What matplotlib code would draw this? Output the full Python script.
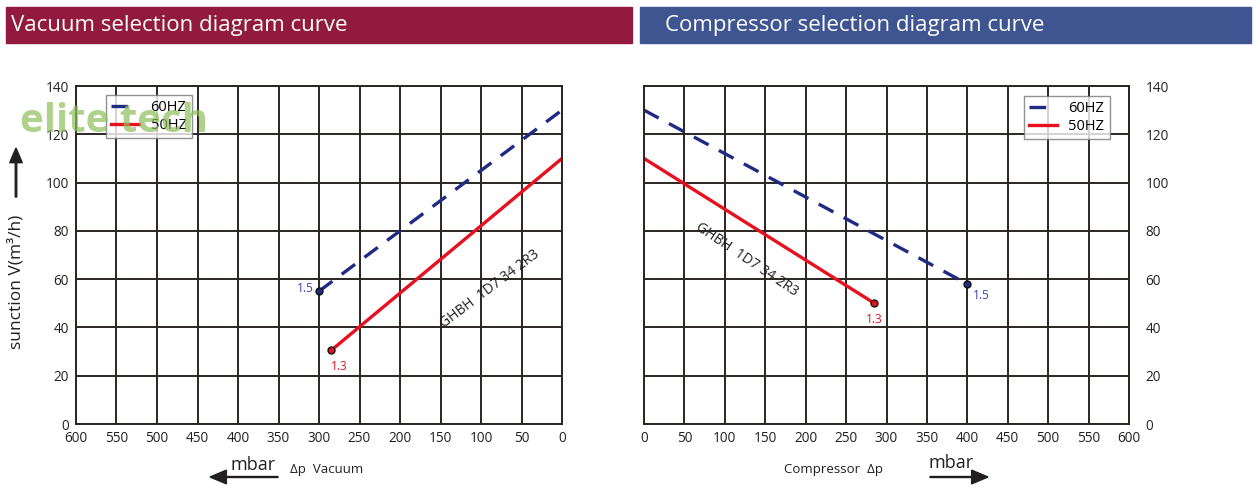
import matplotlib.pyplot as plt
from matplotlib.patches import Rectangle, FancyArrow

plt.rcParams['font.family'] = ['Open Sans', 'DejaVu Sans']

# data
x_ticks = [0, 50, 100, 150, 200, 250, 300, 350, 400, 450, 500, 550, 600]
y_ticks = [0, 20, 40, 60, 80, 100, 120, 140]

vac_60_x = [300, 0]
vac_60_y = [55, 130]
vac_50_x = [285, 0]
vac_50_y = [30.5, 110]

comp_60_x = [0, 400]
comp_60_y = [130, 58]
comp_50_x = [0, 285]
comp_50_y = [110, 50]

model = 'GHBH  1D7 34 2R3'
blue = '#1f2a85'
red = '#e8101e'
grid_c = '#2b2522'

fig = plt.figure(figsize=(12.6, 4.9), dpi=100)
W, H = 1260, 490


def px(x, y):
    return x / W, 1 - y / H


def setup(ax, reverse):
    ax.set_xlim(600, 0) if reverse else ax.set_xlim(0, 600)
    ax.set_ylim(0, 140)
    ax.set_xticks(x_ticks)
    ax.set_yticks(y_ticks)
    ax.grid(True, color=grid_c, lw=1.4)
    ax.set_axisbelow(True)
    for s in ax.spines.values():
        s.set_color(grid_c)
        s.set_linewidth(1.4)
    ax.tick_params(length=0, labelsize=9.8, pad=5, colors='#231f20')


def legend(ax, **kw):
    leg = ax.legend(fontsize=10.5, handlelength=1.9, frameon=True, fancybox=False,
                    edgecolor='#777', borderpad=0.35, labelspacing=0.2,
                    handletextpad=0.8, borderaxespad=0, **kw)
    leg.get_frame().set_linewidth(1.0)


# title bars
fig.patches.append(Rectangle(px(6, 43), 626 / W, 36 / H, transform=fig.transFigure,
                             color='#921a3e', zorder=0))
fig.patches.append(Rectangle(px(640, 43), 611 / W, 36 / H, transform=fig.transFigure,
                             color='#3f5591', zorder=0))
fig.text(*px(11, 25), 'Vacuum selection diagram curve', color='white', fontsize=16,
         va='center', ha='left')
fig.text(*px(665, 25), 'Compressor selection diagram curve', color='white', fontsize=16,
         va='center', ha='left')

# left: vacuum
ax1 = fig.add_axes([76 / W, 1 - 424 / H, 486 / W, 338 / H])
setup(ax1, True)
ax1.plot(vac_60_x, vac_60_y, color=blue, lw=2.4, ls=(0, (5, 3.5)), label='60HZ')
ax1.plot(vac_50_x, vac_50_y, color=red, lw=2.4, label='50HZ')
ax1.plot(vac_60_x[0], vac_60_y[0], 'o', color=blue, ms=5, mec='#111')
ax1.plot(vac_50_x[0], vac_50_y[0], 'o', color=red, ms=5, mec='#111')
ax1.text(vac_60_x[0] + 6, vac_60_y[0] + 1, '1.5', color='#3a44b0', fontsize=8.5,
         ha='right', va='center')
ax1.text(vac_50_x[0] - 10, vac_50_y[0] - 4, '1.3', color=red, fontsize=8.5,
         ha='center', va='top')
ax1.text(89, 56, model, rotation=37, fontsize=10, ha='center', va='center',
         rotation_mode='anchor', color='#231f20')
legend(ax1, loc='upper left', bbox_to_anchor=(0.062, 0.973))

# y label and arrow
fig.text(*px(16, 282), 'sunction V(m³/h)', rotation=90, fontsize=12.5, ha='center',
         va='center', color='#231f20')
fig.patches.append(FancyArrow(*px(16, 197), 0, 49 / H, width=0.0012, head_width=0.01,
                              head_length=0.03, transform=fig.transFigure,
                              color='#231f20', length_includes_head=True))

# right: compressor
ax2 = fig.add_axes([644 / W, 1 - 424 / H, 485 / W, 338 / H])
setup(ax2, False)
ax2.yaxis.tick_right()
ax2.tick_params(axis='y', pad=12)
ax2.plot(comp_60_x, comp_60_y, color=blue, lw=2.4, ls=(0, (5, 3.5)), label='60HZ')
ax2.plot(comp_50_x, comp_50_y, color=red, lw=2.4, label='50HZ')
ax2.plot(comp_60_x[-1], comp_60_y[-1], 'o', color=blue, ms=5, mec='#111')
ax2.plot(comp_50_x[-1], comp_50_y[-1], 'o', color=red, ms=5, mec='#111')
ax2.text(comp_60_x[-1] + 7, comp_60_y[-1] - 2, '1.5', color='#3a44b0', fontsize=8.5,
         ha='left', va='top')
ax2.text(comp_50_x[-1], comp_50_y[-1] - 4, '1.3', color=red, fontsize=8.5,
         ha='center', va='top')
ax2.text(66, 82, model, rotation=-34, fontsize=10, ha='left', va='center',
         rotation_mode='anchor', color='#231f20')
legend(ax2, loc='upper right', bbox_to_anchor=(0.96, 0.97))

# x axis captions
fig.text(*px(231, 465), 'mbar', fontsize=13, ha='left', va='center', color='#231f20')
fig.text(*px(290, 469), 'Δp  Vacuum', fontsize=9.5, ha='left', va='center', color='#231f20')
fig.patches.append(FancyArrow(*px(278, 477), -68 / W, 0, width=0.002, head_width=0.028,
                              head_length=0.013, transform=fig.transFigure,
                              color='#231f20', length_includes_head=True))
fig.text(*px(784, 469), 'Compressor  Δp', fontsize=9.5, ha='left', va='center',
         color='#231f20')
fig.text(*px(929, 463), 'mbar', fontsize=13, ha='left', va='center', color='#231f20')
fig.patches.append(FancyArrow(*px(930, 477), 58 / W, 0, width=0.002, head_width=0.028,
                              head_length=0.013, transform=fig.transFigure,
                              color='#231f20', length_includes_head=True))

# watermark
fig.text(*px(20, 121), 'elite tech', fontsize=29, color='#8cbf5a', alpha=0.7,
         ha='left', va='center', fontweight='bold', zorder=10)

fig.savefig('out.png', dpi=100)
